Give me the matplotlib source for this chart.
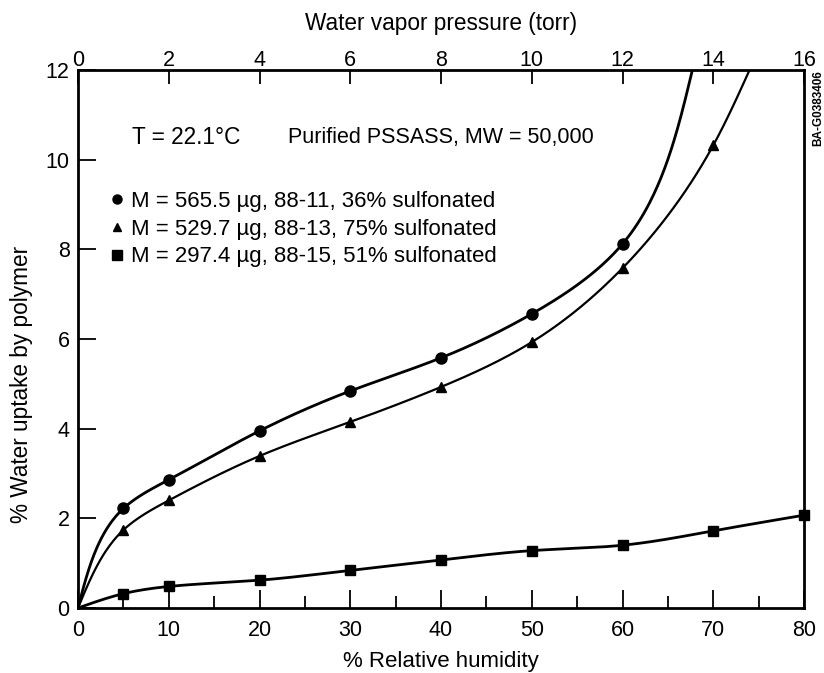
import numpy as np
import matplotlib
matplotlib.use("Agg")
import matplotlib.pyplot as plt
from matplotlib.lines import Line2D

plt.rcParams['font.family'] = ['Liberation Sans', 'DejaVu Sans']

# ---- data ----
rh_circ = [5, 10, 20, 30, 40, 50, 60]
up_circ = [2.22, 2.86, 3.95, 4.84, 5.58, 6.56, 8.12]
circ_curve_end = (67.7, 12.0)

rh_tri = [5, 10, 20, 30, 40, 50, 60, 70]
up_tri = [1.74, 2.40, 3.39, 4.15, 4.93, 5.93, 7.58, 10.32]
tri_curve_end = (74.0, 12.0)

rh_sq = [5, 10, 20, 30, 40, 50, 60, 70, 80]
up_sq = [0.32, 0.48, 0.62, 0.84, 1.07, 1.28, 1.40, 1.72, 2.07]

labels = ["M = 565.5 \u00b5g, 88-11, 36% sulfonated",
          "M = 529.7 \u00b5g, 88-13, 75% sulfonated",
          "M = 297.4 \u00b5g, 88-15, 51% sulfonated"]
xticks = [0, 10, 20, 30, 40, 50, 60, 70, 80]
yticks = [0, 2, 4, 6, 8, 10, 12]
top_ticks = [0, 2, 4, 6, 8, 10, 12, 14, 16]


def natural_param_spline(P, n_per=60):
    """Natural cubic spline through 2-D points P, chord-length parameter."""
    P = np.asarray(P, float)
    n = len(P)
    h = np.linalg.norm(np.diff(P, axis=0), axis=1)
    A = np.zeros((n, n)); B = np.zeros((n, 2))
    A[0, 0] = A[-1, -1] = 1.0
    for i in range(1, n - 1):
        A[i, i - 1] = h[i - 1]
        A[i, i] = 2 * (h[i - 1] + h[i])
        A[i, i + 1] = h[i]
        B[i] = 6 * ((P[i + 1] - P[i]) / h[i] - (P[i] - P[i - 1]) / h[i - 1])
    M = np.linalg.solve(A, B)
    out = []
    for i in range(n - 1):
        s = np.linspace(0, h[i], n_per, endpoint=(i == n - 2))[:, None]
        hi = h[i]
        seg = (M[i] * (hi - s) ** 3 / (6 * hi) + M[i + 1] * s ** 3 / (6 * hi)
               + (P[i] / hi - M[i] * hi / 6) * (hi - s)
               + (P[i + 1] / hi - M[i + 1] * hi / 6) * s)
        out.append(seg)
    return np.vstack(out)


def smooth_curve(ax, x, y, **kw):
    disp = ax.transData.transform(np.column_stack([x, y]))
    curve = natural_param_spline(disp)
    data = ax.transData.inverted().transform(curve)
    ax.plot(data[:, 0], data[:, 1], **kw)


fig = plt.figure(figsize=(8.24, 6.73), dpi=100)
ax = fig.add_axes([78 / 824, 1 - 608 / 673, 726 / 824, 538 / 673])
ax.set_xlim(0, 80)
ax.set_ylim(0, 12)

lw = 2.0
smooth_curve(ax, [0] + rh_circ + [circ_curve_end[0]],
             [0] + up_circ + [circ_curve_end[1]], color='black', lw=lw)
ax.plot(rh_circ, up_circ, 'o', color='black', ms=8, clip_on=False)

smooth_curve(ax, [0] + rh_tri + [tri_curve_end[0]],
             [0] + up_tri + [tri_curve_end[1]], color='black', lw=lw * 0.8)
ax.plot(rh_tri, up_tri, '^', color='black', ms=6.5, clip_on=False)

smooth_curve(ax, [0] + rh_sq, [0] + up_sq, color='black', lw=lw)
ax.plot(rh_sq, up_sq, 's', color='black', ms=7.5, clip_on=False)

for s in ax.spines.values():
    s.set_linewidth(2.0)

ax.set_xticks(xticks)
ax.set_xticks([5, 15, 25, 35, 45, 55, 65, 75], minor=True)
ax.set_yticks(yticks)
ax.tick_params(axis='x', which='major', direction='in', length=13, width=1.3,
               labelsize=15.5, pad=9)
ax.tick_params(axis='x', which='minor', direction='in', length=9, width=1.3)
ax.tick_params(axis='y', which='major', direction='in', length=13, width=1.3,
               labelsize=15.5, pad=6)

sec = ax.secondary_xaxis('top', functions=(lambda x: x / 5, lambda x: x * 5))
sec.set_xticks(top_ticks)
sec.tick_params(direction='in', length=10, width=1.3, labelsize=15.5, pad=-1)
sec.set_xlabel('Water vapor pressure (torr)', fontsize=16.3, labelpad=15)

ax.set_xlabel('% Relative humidity', fontsize=16)
ax.xaxis.set_label_coords(0.5, -0.08)
ax.set_ylabel('% Water uptake by polymer', fontsize=16.3)
ax.yaxis.set_label_coords(-0.062, 0.415)

ax.text(132 / 824, 1 - 137 / 673, 'T = 22.1\u00b0C', transform=fig.transFigure,
        fontsize=16.3, va='center', ha='left')
ax.text(288 / 824, 1 - 137 / 673, 'Purified PSSASS, MW = 50,000',
        transform=fig.transFigure, fontsize=15.5, va='center', ha='left')

handles = [Line2D([], [], marker='o', color='black', ls='none', ms=6.5),
           Line2D([], [], marker='^', color='black', ls='none', ms=5.5),
           Line2D([], [], marker='s', color='black', ls='none', ms=6.5)]
ax.legend(handles, labels, loc='upper left',
          bbox_to_anchor=(32 / 726, (608 - 191) / 538), frameon=False,
          fontsize=16, handlelength=0.6, handletextpad=0.35,
          labelspacing=0.3, borderpad=0, borderaxespad=0)

fig.text(818 / 824, 1 - 108 / 673, 'BA-G0383406', rotation=90, fontsize=8.5,
         fontweight='bold', ha='center', va='center')

fig.savefig('out.png', dpi=100)
